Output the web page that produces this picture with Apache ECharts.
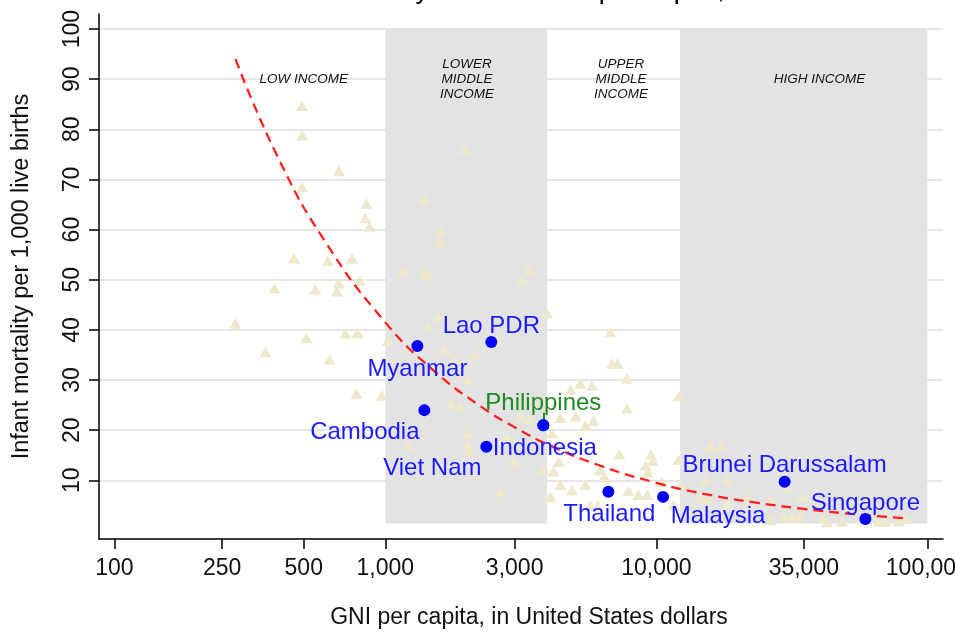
<!DOCTYPE html>
<html><head><meta charset="utf-8">
<script src="https://cdn.jsdelivr.net/npm/echarts@6/dist/echarts.min.js"></script>
<style>html,body{margin:0;padding:0;background:#fff}#c{width:955px;height:635px}</style>
</head><body><div id="c"></div>
<script>
// ---- data ----
const xTicks = [100, 250, 500, 1000, 3000, 10000, 35000, 100000];
const yTicks = [10, 20, 30, 40, 50, 60, 70, 80, 90, 100];

// other countries (GNI per capita, infant mortality)
const otherGNI = [493,493,673,493,851,844,873,460,613,754,390,552,673,663,804,280,511,361,623,712,790,782,970,1021,
  1162,1381,1445,1393,1600,1596,1961,1433,1560,1641,1790,2136,2025,1744,1891,2016,2021,2037,1219,3379,3195,3930,2584,3150,3400,4116,2980,3838,4178,2665,2812,
  6766,6852,7181,7783,5244,5781,4828,12090,7797,4423,5047,5470,5868,7303,9544,9707,9148,9303,12090,4360,6215,6429,10490,12370,4423,4886,5470,4064,7880,8584,9265,5707,6074,11580,
  15830,17330,15160,18330,14530,15600,18170,21670,26350,30360,34480,26350,29670,31760,33700,40880,42660,48440,61620,66130,69980,78390,82960,13930];
const otherIMR = [84.7,78.8,71.7,68.5,65.2,62.3,60.6,54.3,53.8,54.3,48.3,48.1,49.3,47.7,49.8,41.3,38.4,35.6,34.1,39.3,39.4,27.3,26.9,37.9,
  51.7,51.5,50.8,66.1,59.7,57.5,76.0,40.7,42.6,36.3,34.1,35.2,30.1,25.3,24.7,19.3,17.2,15.8,17.0,52.0,50.0,43.4,38.0,22.7,22.1,19.4,13.9,12.1,11.8,7.7,18.7,
  39.6,33.3,33.3,30.3,29.3,28.9,28.1,26.8,24.4,22.5,22.8,20.9,21.9,15.2,15.2,13.9,13.0,11.6,14.1,13.7,12.1,10.7,9.7,9.1,9.1,8.0,9.1,6.7,7.9,7.1,7.1,5.0,5.0,5.1,
  16.7,16.9,10.1,10.1,6.5,6.4,5.2,6.6,6.3,8.4,6.8,2.1,2.8,2.7,2.8,2.5,1.7,1.8,6.4,1.8,1.8,1.9,2.4,4.1];

// ASEAN members
const aseanNames = ['Myanmar', 'Lao PDR', 'Cambodia', 'Viet Nam', 'Indonesia', 'Philippines', 'Thailand', 'Malaysia', 'Brunei Darussalam', 'Singapore'];
const aseanGNI = [1313, 2461, 1393, 2359, 3828, 3828, 6652, 10586, 29740, 59060];
const aseanIMR = [36.8, 37.6, 24.0, 16.7, 21.0, 21.0, 7.7, 6.7, 9.7, 2.3];

// fitted curve
const fitGNI = [280, 400, 600, 1000, 1500, 2240, 3000, 4000, 6000, 10000, 15000, 23000, 35000, 55000, 85000];
const fitIMR = [94, 74.6, 57.6, 41.5, 32.0, 24.8, 20.6, 17.1, 13.2, 9.5, 7.3, 5.6, 4.3, 3.2, 2.4];

// World Bank income groups
const bandNames = ['LOW INCOME', 'LOWER\nMIDDLE\nINCOME', 'UPPER\nMIDDLE\nINCOME', 'HIGH INCOME'];
const bandLabelGNI = [500, 2000, 7400, 40000];
const bandLabelIMR = [90, 90, 90, 90];
const shadedFrom = [1000, 12235];
const shadedTo = [3955, 100000];
const shadedBottom = 1.4;
const shadedTop = 100;

// leader tick between the Philippines label and its point
const leaderGNI = 3828;
const leaderIMR = [22.1, 23.5];

// ---- layout / style (not data) ----
const FONT = '"Liberation Sans", Arial, sans-serif';
const labelLayout = {
  'Myanmar': {offset: [0, 23], align: 'center'},
  'Lao PDR': {offset: [0, -16], align: 'center'},
  'Cambodia': {offset: [-59.5, 22], align: 'center'},
  'Viet Nam': {offset: [-54, 22], align: 'center'},
  'Indonesia': {offset: [-50.6, 23.7], align: 'left'},
  'Philippines': {offset: [0, -22], align: 'center', color: '#1f8a1f'},
  'Thailand': {offset: [1, 22.5], align: 'center'},
  'Malaysia': {offset: [55, 19], align: 'center'},
  'Brunei Darussalam': {offset: [0, -16.5], align: 'center'},
  'Singapore': {offset: [0, -15.5], align: 'center'}
};

const fmt = v => Number(v).toLocaleString('en-US');

const chart = echarts.init(document.getElementById('c'), null, {renderer: 'canvas'});
chart.setOption({
  animation: false,
  backgroundColor: '#ffffff',
  textStyle: {fontFamily: FONT},
  title: {
    text: 'Infant mortality rate and GNI per capita,',
    left: 247, top: -28,
    textStyle: {fontSize: 27, fontWeight: 'normal', color: '#000', fontFamily: FONT}
  },
  grid: {left: 99, right: 12, top: 14, bottom: 96, containLabel: false, outerBoundsMode: 'none'},
  xAxis: {
    type: 'log', logBase: 10, min: 87.8, max: 114200,
    name: 'GNI per capita, in United States dollars',
    nameLocation: 'middle', nameGap: 67,
    nameTextStyle: {fontSize: 23, color: '#111', fontFamily: FONT, padding: [0, 0, 0, 16]},
    axisLine: {show: true, onZero: false, lineStyle: {color: '#000', width: 1.5}},
    axisTick: {show: true, length: 10, customValues: xTicks, lineStyle: {color: '#000', width: 1.5}},
    minorTick: {show: false},
    axisLabel: {customValues: xTicks, formatter: fmt, fontSize: 23, color: '#111', margin: 18, fontFamily: FONT},
    splitLine: {show: false}
  },
  yAxis: {
    type: 'value', min: -1.7, max: 103,
    name: 'Infant mortality per 1,000 live births',
    nameLocation: 'middle', nameGap: 65,
    nameTextStyle: {fontSize: 23.5, color: '#111', fontFamily: FONT},
    axisLine: {show: true, onZero: false, lineStyle: {color: '#000', width: 1.5}},
    axisTick: {show: true, length: 10, customValues: yTicks, lineStyle: {color: '#000', width: 1.5}},
    axisLabel: {customValues: yTicks, rotate: 90, fontSize: 23, color: '#111', margin: 15, fontFamily: FONT},
    splitLine: {show: true, lineStyle: {color: '#e6e6e6', width: 2}}
  },
  series: [
    {
      name: 'bands', type: 'scatter', data: [], z: 1, silent: true,
      markArea: {
        silent: true,
        itemStyle: {color: '#e3e3e3', opacity: 1},
        label: {show: false},
        data: shadedFrom.map((f, i) => [{xAxis: f, yAxis: shadedBottom}, {xAxis: shadedTo[i], yAxis: shadedTop}])
      }
    },
    {
      name: 'band labels', type: 'scatter', z: 2, silent: true, symbolSize: 0,
      itemStyle: {opacity: 1},
      data: bandNames.map((n, i) => ({name: n, value: [bandLabelGNI[i], bandLabelIMR[i]]})),
      label: {show: true, position: 'inside', formatter: p => p.name, fontSize: 13.5, lineHeight: 15,
        fontStyle: 'italic', color: '#111', fontFamily: FONT, align: 'center', verticalAlign: 'middle'}
    },
    {
      name: 'other countries', type: 'scatter', z: 3, symbol: 'triangle', symbolSize: [12, 10.5],
      itemStyle: {color: '#eee8cd', opacity: 1},
      data: otherGNI.map((g, i) => [g, otherIMR[i]])
    },
    {
      name: 'fit', type: 'line', z: 4, smooth: true, symbol: 'none',
      lineStyle: {color: '#ff2020', width: 2.3, type: [10, 6], opacity: 1},
      data: fitGNI.map((g, i) => [g, fitIMR[i]])
    },
    {
      name: 'ASEAN', type: 'scatter', z: 5, symbol: 'circle', symbolSize: 12,
      itemStyle: {color: '#0000ff', opacity: 1},
      markLine: {
        silent: true, symbol: 'none', label: {show: false},
        lineStyle: {color: '#1f8a1f', width: 2, type: 'solid', opacity: 1},
        data: [[{coord: [leaderGNI, leaderIMR[0]]}, {coord: [leaderGNI, leaderIMR[1]]}]]
      },
      data: aseanNames.map((n, i) => {
        const L = labelLayout[n];
        return {
          name: n, value: [aseanGNI[i], aseanIMR[i]],
          label: {show: true, position: 'inside', offset: L.offset, align: L.align, verticalAlign: 'middle',
            formatter: n, fontSize: 24, color: L.color || '#1a1aff', opacity: 1, fontFamily: FONT}
        };
      })
    }
  ]
});
</script></body></html>
